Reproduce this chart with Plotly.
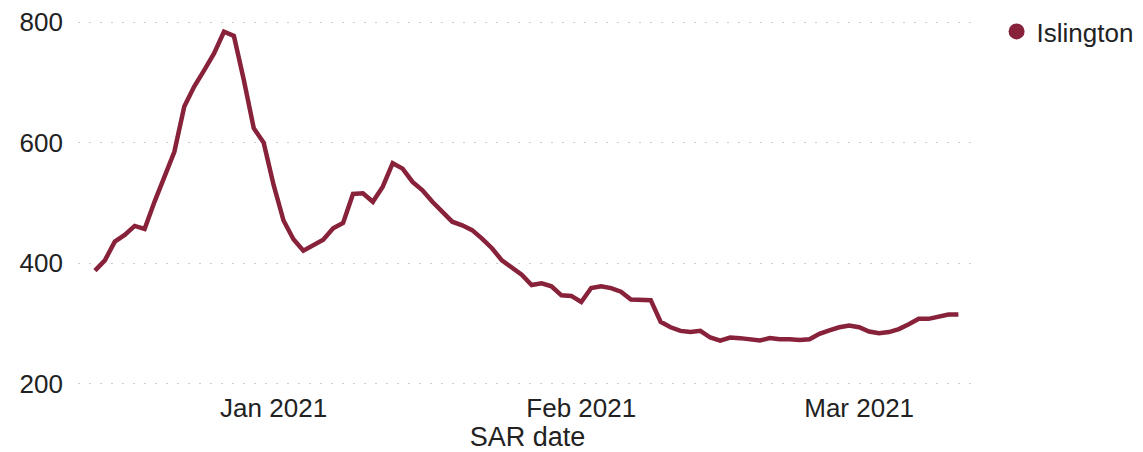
#%% IMPORTS

import pandas as pd
import plotly.graph_objects as go

#%% DATA

area_name = 'Islington'
start_date = '2020-12-14'

dec_values = [388, 405, 436, 447, 462, 457, 502, 544, 585, 660, 693, 720,
              748, 784, 777, 704, 624, 600]
jan_values = [530, 471, 440, 421, 430, 439, 458, 467, 515, 516, 502, 527,
              566, 557, 535, 521, 502, 486, 469, 463, 455, 441, 425, 405,
              394, 381, 364, 367, 362, 347, 346]
feb_values = [336, 359, 362, 359, 353, 340, 340, 339, 303, 294, 288, 286,
              288, 277, 272, 277, 276, 274, 272, 276, 274, 274, 273, 274,
              283, 289, 294, 297]
mar_values = [294, 287, 284, 286, 291, 299, 308, 308, 312, 315, 315]

y_ticks = [200, 400, 600, 800]

values = dec_values + jan_values + feb_values + mar_values
dates = pd.date_range(start_date, periods=len(values), freq='D')

#%% PLOT

line_color = '#88213a'
font_family = 'Liberation Sans, Arial, sans-serif'

fig = go.Figure()

fig.add_trace(go.Scatter(
    x=dates,
    y=values,
    mode='lines',
    line=dict(color=line_color, width=4.5),
    showlegend=False,
))

# legend entry shown as a dot
fig.add_trace(go.Scatter(
    x=[None],
    y=[None],
    mode='markers',
    name=area_name,
    marker=dict(color=line_color, size=16),
))

# page body adds 8px, so the figure is a bit smaller than the window
fig.update_layout(
    width=1135,
    height=444,
    template='plotly_white',
    paper_bgcolor='white',
    plot_bgcolor='white',
    font=dict(family=font_family, size=26, color='#222222'),
    margin=dict(l=70, r=166, t=2, b=62),
    legend=dict(
        xref='container',
        yref='container',
        x=0.871,
        y=1.0,
        xanchor='left',
        yanchor='top',
        font=dict(size=26),
    ),
)

fig.update_xaxes(
    range=['2020-12-12 07:00', '2021-03-12 21:00'],
    tickformat='%b %Y',
    dtick='M1',
    showgrid=False,
    showline=False,
    zeroline=False,
    ticks='',
    automargin=False,
    title=dict(text='SAR date', standoff=0, font=dict(size=27)),
)

fig.update_yaxes(
    range=[190, 820],
    tickvals=y_ticks,
    showgrid=True,
    gridcolor='#cccccc',
    gridwidth=1,
    griddash='2px,9px',
    showline=False,
    zeroline=False,
    ticks='',
    ticklabelstandoff=14,
    ticklabeloverflow='allow',
    automargin=False,
)

fig.write_html('out.html')
